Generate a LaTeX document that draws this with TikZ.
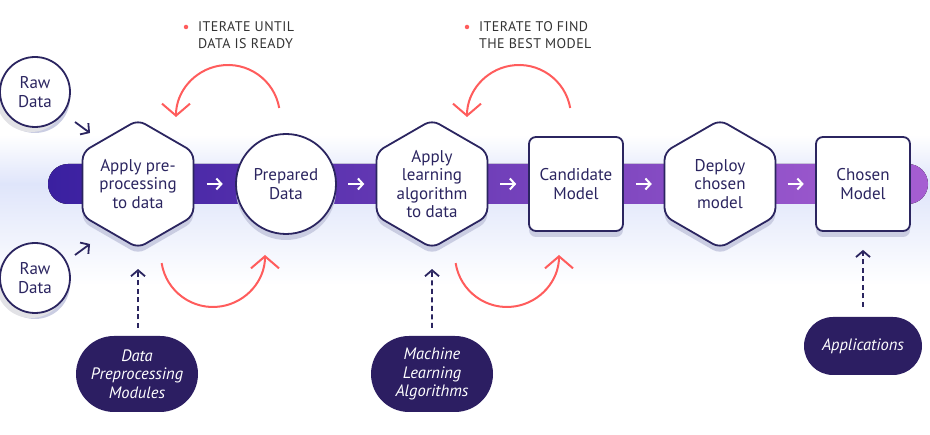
\documentclass[tikz,border=0pt]{standalone}
\usepackage{fontspec}
\setmainfont{PT Sans}
\newfontfamily\labelfont{PT Sans}[LetterSpace=3]
\usetikzlibrary{shapes.geometric,shapes.misc,arrows.meta,calc,shadows}
\definecolor{navy}{HTML}{2B2560}
\definecolor{pillc}{HTML}{2C1E62}
\definecolor{coral}{HTML}{FF5C5C}
\definecolor{barL}{HTML}{3A20A0}
\definecolor{barR}{HTML}{A65ED2}
\definecolor{glow}{HTML}{DFE5FA}
\definecolor{shadec}{HTML}{CACDE2}
\definecolor{rawshade}{HTML}{E2E2E6}
\definecolor{labelgray}{HTML}{333333}
\begin{document}
\begin{tikzpicture}[x=1pt,y=1pt,
  box/.style={draw=navy, line width=1.8pt, fill=white, text=navy,
    font=\fontsize{17}{18.5}\selectfont, align=center, inner sep=0pt,
    drop shadow={shadow xshift=0pt, shadow yshift=-6pt, fill=shadec, opacity=1}},
  hexbox/.style={box, regular polygon, regular polygon sides=6,
    shape border rotate=90, minimum size=128pt, rounded corners=8pt},
  sqbox/.style={box, rectangle, minimum width=94pt, minimum height=94pt, rounded corners=7pt},
  rawbox/.style={box, circle, minimum size=70pt,
    drop shadow={shadow xshift=-4pt, shadow yshift=-5pt, fill=rawshade, opacity=1}},
  pillbox/.style={rounded rectangle, fill=pillc, text=white, align=center,
    font=\fontsize{16.5}{18.5}\selectfont\itshape, inner sep=0pt},
  barrow/.style={draw=white, line width=2pt, -{Straight Barb[length=5pt,width=11pt]}},
  navyarrow/.style={draw=navy, line width=1.8pt, -{Straight Barb[length=6pt,width=14pt]}},
  dasharrow/.style={navyarrow, dash pattern=on 5pt off 3.5pt},
  redarc/.style={draw=coral, line width=2pt, -{Straight Barb[length=12pt,width=28pt]}},
  iterlabel/.style={text=labelgray, font=\labelfont\fontsize{14}{17}\selectfont, align=left, inner sep=0pt, anchor=west},
  reddot/.style={circle, fill=coral, minimum size=4.5pt, inner sep=0pt}
]
\useasboundingbox (0,0) rectangle (930,435);
% glow band
\shade[top color=white, bottom color=glow] (0,251) rectangle (930,300);
\shade[top color=glow, bottom color=white] (0,150) rectangle (930,251.5);
% bar
\fill[left color=barL, right color=barR, rounded corners=20pt] (48,231) rectangle (928,271);

% main nodes
\node[hexbox] (hexA) at (138,251) {Apply pre-\\processing\\to data};
\node[box, circle, minimum size=100pt] (prep) at (286,251) {Prepared\\Data};
\node[hexbox] (hexB) at (432,251) {Apply\\learning\\algorithm\\to data};
\node[sqbox] (cand) at (576,251) {Candidate\\Model};
\node[hexbox] (deploy) at (720,251) {Deploy\\chosen\\model};
\node[sqbox] (chosen) at (863,251) {Chosen\\Model};

% raw data
\node[rawbox] (raw1) at (35,343) {Raw\\Data};
\node[rawbox] (raw2) at (35,157) {Raw\\Data};
\draw[navyarrow] ([shift={(40,-30)}]raw1.center) -- ([shift={(55,-41)}]raw1.center);
\draw[navyarrow] ([shift={(40,23)}]raw2.center) -- ([shift={(55,34)}]raw2.center);

% bar arrows
\foreach \a/\b in {hexA/prep, prep/hexB, hexB/cand, cand/deploy, deploy/chosen}{
  \draw[barrow] ($(\a.east)!0.5!(\b.west)+(-8,0)$) -- ($(\a.east)!0.5!(\b.west)+(8,0)$);
}

% pills
\node[pillbox, minimum width=122pt, minimum height=76pt] (dpm) at (137,61) {Data\\Preprocessing\\Modules};
\node[pillbox, minimum width=122pt, minimum height=76pt] (mla) at (432,61) {Machine\\Learning\\Algorithms};
\node[pillbox, minimum width=118pt, minimum height=58pt] (apps) at (863,89) {Applications};
\draw[dasharrow, shorten <=8pt, shorten >=20pt] (dpm.north -| hexA.south) -- (hexA.south);
\draw[dasharrow, shorten <=8pt, shorten >=20pt] (mla.north) -- (hexB.south);
\draw[dasharrow, shorten <=10pt, shorten >=18pt] (apps.north) -- (chosen.south);

% red iteration arcs
\coordinate (c1) at (228,318);
\coordinate (c2) at (213,180);
\coordinate (c3) at (519,318);
\coordinate (c4) at (507,180);
\draw[redarc] ([shift={(10:52)}]c1) arc[start angle=10, end angle=180, radius=52];
\draw[redarc] ([shift={(189:52)}]c2) arc[start angle=189, end angle=360, radius=52];
\draw[redarc] ([shift={(10:52)}]c3) arc[start angle=10, end angle=180, radius=52];
\draw[redarc] ([shift={(189:52)}]c4) arc[start angle=189, end angle=360, radius=52];

% labels
\node[reddot] (d1) at (186,408) {};
\node[iterlabel] (it1) at (198,399.5) {ITERATE UNTIL\\DATA IS READY};
\node[reddot] (d2) at (467,408) {};
\node[iterlabel] (it2) at (479,399.5) {ITERATE TO FIND\\THE BEST MODEL};
\end{tikzpicture}
\end{document}
